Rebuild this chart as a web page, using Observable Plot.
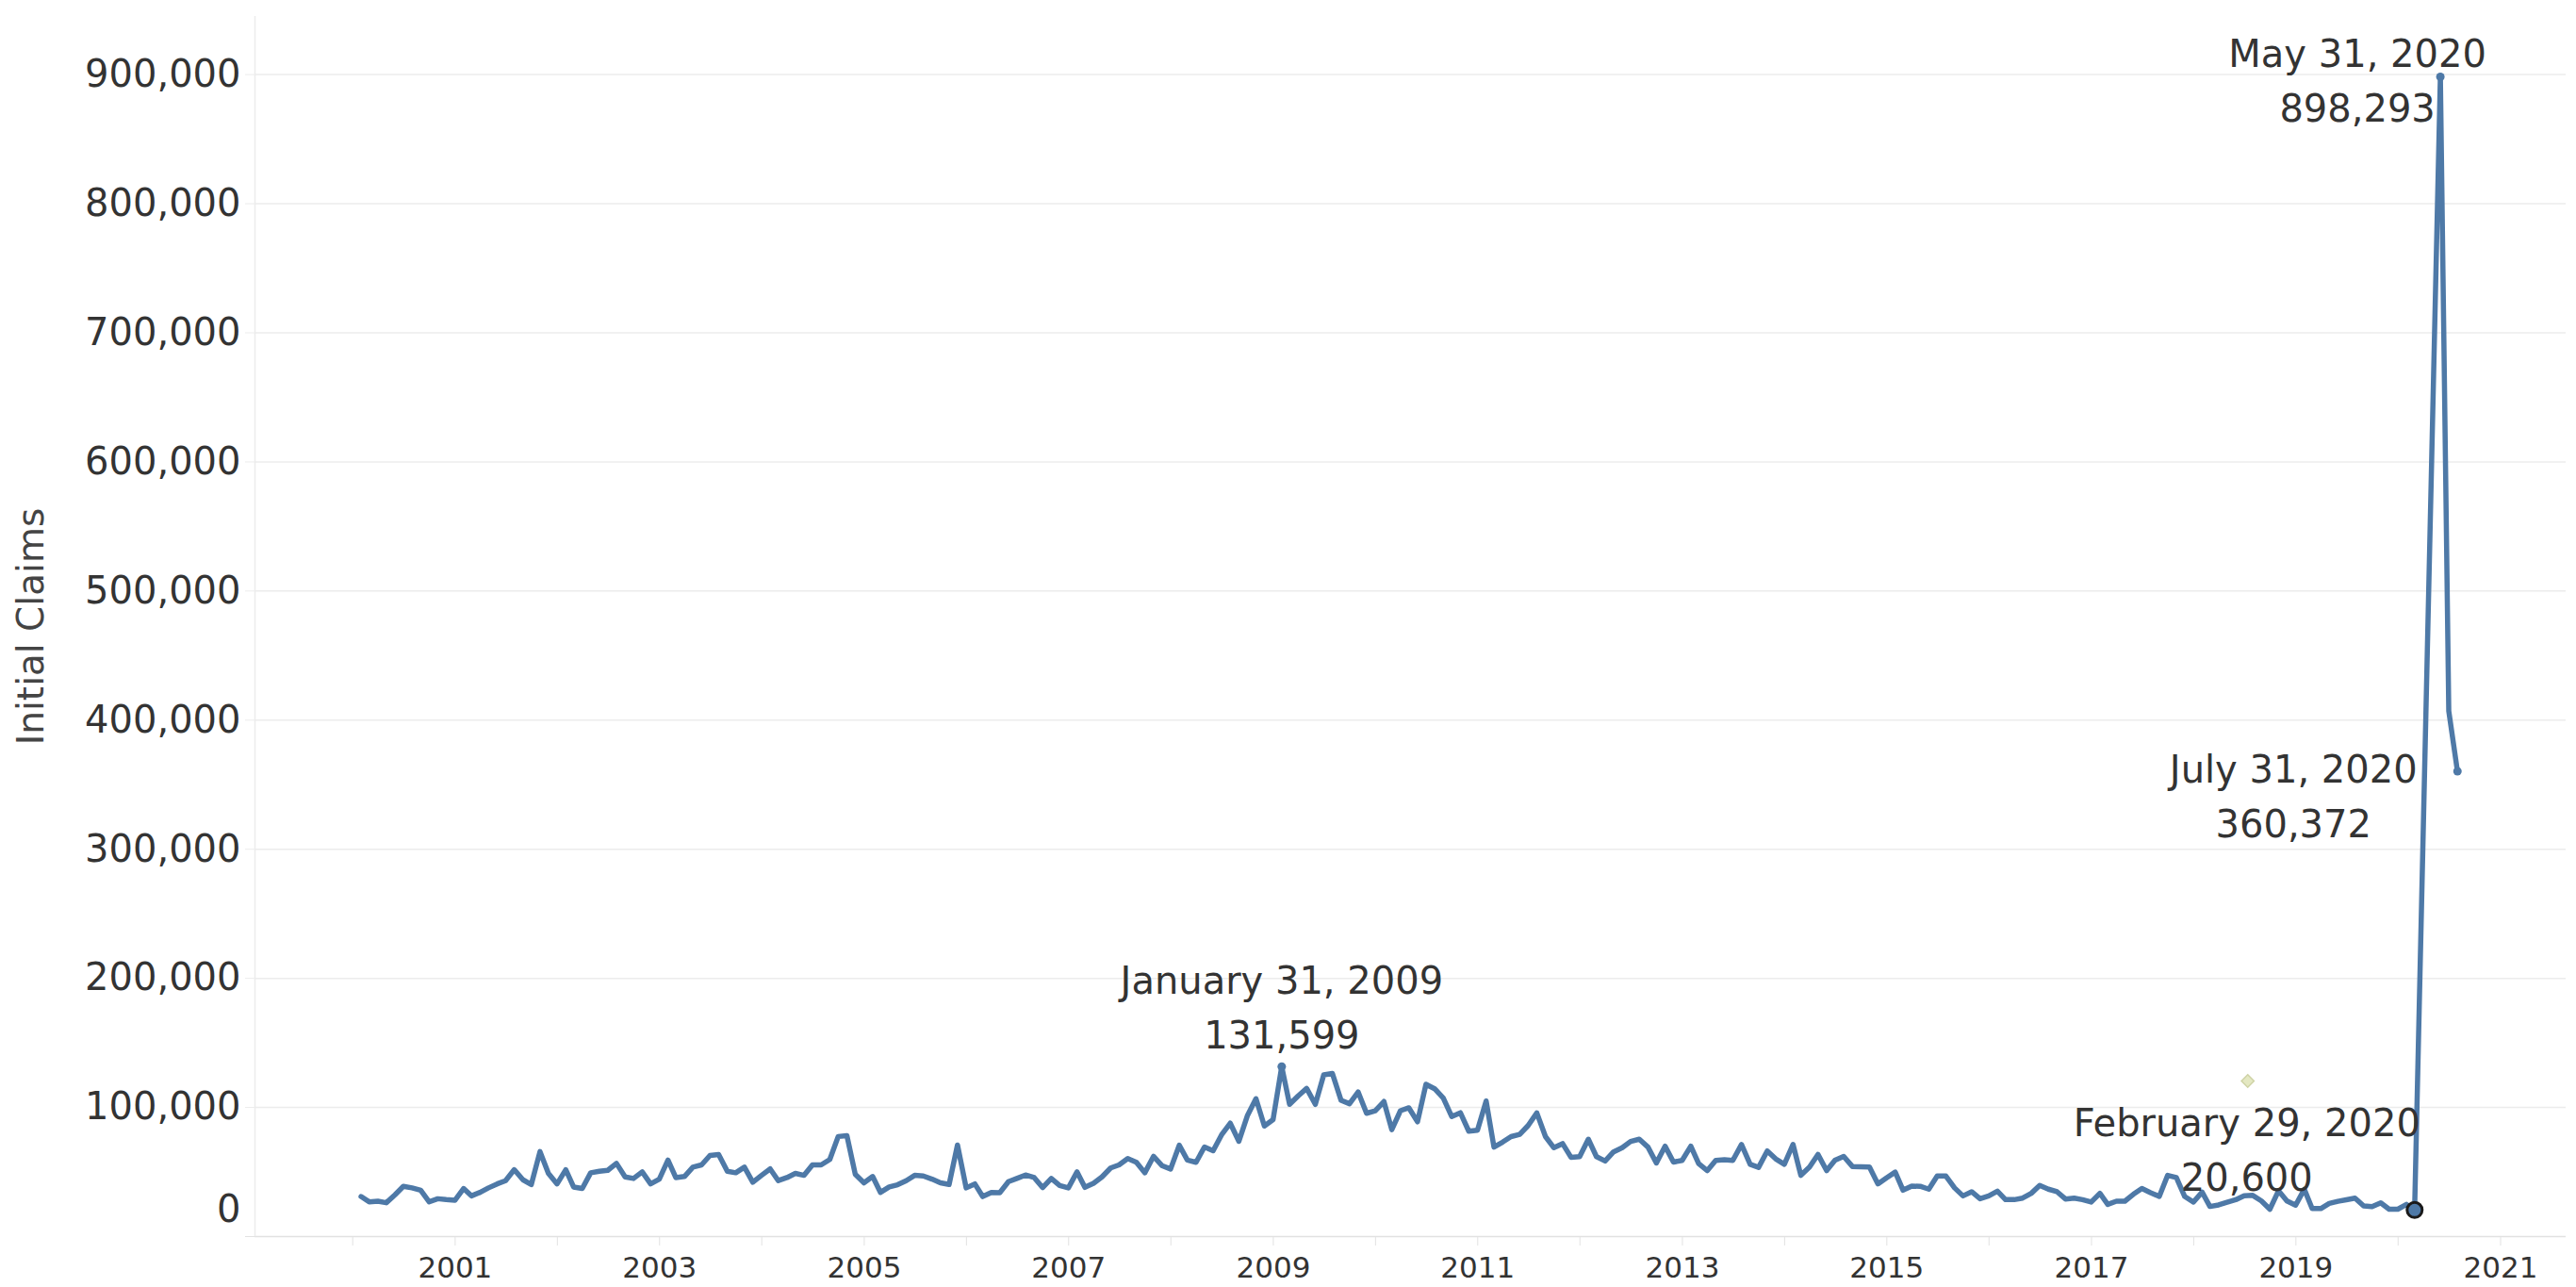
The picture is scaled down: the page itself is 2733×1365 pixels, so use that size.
<!DOCTYPE html>
<html>
<head>
<meta charset="utf-8">
<script src="https://cdn.jsdelivr.net/npm/d3@7"></script>
<script src="https://cdn.jsdelivr.net/npm/@observablehq/plot@0.6"></script>
<style>
  html, body { margin: 0; padding: 0; background: #fff; }
  #chart svg { display: block; }
</style>
</head>
<body>
<div id="chart"></div>
<script>
// ---------- data ----------
const seriesStart = "2000-01-01";           // first month of the monthly series (month-end dates)
const monthlyClaims = [                      // Jan 2000 … Feb 2020
  31000, 26900, 27400, 26200, 32300, 38900, 37700, 35900, 26900, 29300, 28600, 28100,
  37200, 31500, 34200, 37700, 40800, 43300, 51800, 44000, 40300, 65800, 48900, 40800,
  51800, 38400, 37200, 49400, 50600, 51300, 56700, 46200, 45000, 50100, 40800, 44500,
  59200, 45700, 46500, 53800, 55500, 62800, 63600, 50600, 49400, 53800, 42100, 47400,
  52400, 43300, 45700, 48900, 47400, 55500, 55500, 59700, 77500, 78200, 48200, 41600,
  46500, 34200, 38400, 40100, 43300, 47400, 46900, 44500, 41600, 40300, 70900, 37700,
  40800, 31000, 34200, 34000, 42500, 45000, 47700, 45700, 37900, 45000, 39600, 37700,
  50100, 38100, 41300, 46200, 53100, 55500, 60400, 57500, 49400, 62100, 55000, 52300,
  70700, 59200, 57500, 69400, 66500, 78700, 87800, 73800, 93400, 106800, 85600, 90500,
  131599, 102400, 109000, 114700, 102400, 125300, 126300, 105500, 102900, 112000, 95500, 97400,
  104600, 82800, 97500, 99700, 88900, 117900, 114500, 107300, 93000, 95900, 81600, 82400,
  105000, 69300, 73200, 77400, 79100, 86000, 95800, 77400, 68800, 72000, 61400, 61900,
  75400, 61900, 58500, 65600, 68800, 73700, 75400, 69300, 57000, 70000, 57700, 59000,
  70000, 56500, 51100, 59000, 59500, 59000, 71300, 56000, 53600, 66300, 60200, 56000,
  71400, 47400, 53800, 63600, 51100, 59200, 62100, 54300, 54000, 53800, 40800, 45500,
  49900, 35900, 39100, 38900, 36700, 46900, 46900, 37700, 31500, 34700, 29300, 31500,
  35200, 28600, 28600, 29800, 33500, 39600, 36700, 34700, 29100, 29800, 28600, 26700,
  33500, 24900, 27400, 27400, 32800, 37200, 34000, 31100, 47400, 45700, 31000, 26700,
  34400, 23300, 24500, 26500, 28500, 31600, 31900, 27600, 21200, 35500, 27600, 24300,
  36600, 21700, 21700, 25600, 27300, 28500, 29800, 23700, 23200, 26100, 21200, 21200,
  24900, 20600
];
const laterDates  = ["2020-05-31", "2020-06-30", "2020-07-31"];
const laterClaims = [898293, 407000, 360372];

const annDates  = ["2009-01-31", "2020-02-29", "2020-05-31", "2020-07-31"];
const annTitles = ["January 31, 2009", "February 29, 2020", "May 31, 2020", "July 31, 2020"];
const annValues = [131599, 20600, 898293, 360372];

const markerDates  = ["2018-07-13"];
const markerValues = [120500];

const yTicks = [0, 100000, 200000, 300000, 400000, 500000, 600000, 700000, 800000, 900000];
const xTickYears  = [2000, 2001, 2002, 2003, 2004, 2005, 2006, 2007, 2008, 2009, 2010,
                     2011, 2012, 2013, 2014, 2015, 2016, 2017, 2018, 2019, 2020, 2021];
const xLabelYears = [2001, 2003, 2005, 2007, 2009, 2011, 2013, 2015, 2017, 2019, 2021];
const xDomain = ["1999-01-17", "2021-08-23"];
const yDomain = [0, 945000];
const yTitle = "Initial Claims";

// ---------- build tables ----------
const start = new Date(seriesStart + "T00:00:00Z");
const series = monthlyClaims.map((v, i) => ({
  date: d3.utcDay.offset(d3.utcMonth.offset(start, i + 1), -1),
  value: v
})).concat(laterDates.map((d, i) => ({ date: new Date(d + "T00:00:00Z"), value: laterClaims[i] })));

const annotations = annDates.map((d, i) => ({
  key: d, date: new Date(d + "T00:00:00Z"), value: annValues[i], title: annTitles[i]
}));
const markers = markerDates.map((d, i) => ({ date: new Date(d + "T00:00:00Z"), value: markerValues[i] }));

// layout (styles / offsets)
const BLUE = "#4e79a7";
const TEXT = "#333333";
const GRID = "#ececec";
const AXIS = "#e2e2e2";
const labelOffsets = {
  "2009-01-31": { dx: 0,    dy: -67 },
  "2020-02-29": { dx: -178, dy: -68 },
  "2020-05-31": { dx: -88,  dy: 0 },
  "2020-07-31": { dx: -174, dy: 22 }
};
const fmt = d3.format(",");

const textMarks = annotations.map(a => Plot.text([a], {
  x: "date", y: "value",
  text: d => d.title + "\n" + fmt(d.value),
  dx: labelOffsets[a.key].dx, dy: labelOffsets[a.key].dy,
  fontSize: 40, lineHeight: 1.45, fill: TEXT,
  textAnchor: "middle", lineAnchor: "middle"
}));

const chart = Plot.plot({
  width: 2733,
  height: 1365,
  marginLeft: 270,
  marginRight: 11,
  marginTop: 17,
  marginBottom: 54,
  style: { fontFamily: "'DejaVu Sans', sans-serif", background: "#fff", color: TEXT },
  x: { type: "utc", domain: xDomain.map(d => new Date(d + "T00:00:00Z")), label: null },
  y: { domain: yDomain, label: null },
  marks: [
    Plot.gridY(yTicks.filter(t => t > 0), { stroke: GRID, strokeOpacity: 1, strokeWidth: 1.5 }),
    Plot.ruleY([0], { stroke: AXIS, strokeWidth: 1.5 }),
    Plot.ruleX([new Date(xDomain[0] + "T00:00:00Z")], { stroke: GRID, strokeWidth: 1.5 }),
    Plot.axisY(yTicks.filter(t => t > 0), {
      tickSize: 10, tickPadding: 5, stroke: GRID, fill: TEXT, fontSize: 40, tickFormat: fmt
    }),
    Plot.axisY([0], { tickSize: 10, stroke: AXIS, tickFormat: () => "" }),
    Plot.axisY([0], { tickSize: 0, tickPadding: 15, dy: -28, fill: TEXT, fontSize: 40, tickFormat: fmt }),
    Plot.axisX(xTickYears.map(y => new Date(Date.UTC(y, 0, 1))), {
      tickSize: 10, tickPadding: 11, stroke: AXIS, fill: TEXT, fontSize: 31,
      tickFormat: d => xLabelYears.includes(d.getUTCFullYear()) ? String(d.getUTCFullYear()) : ""
    }),
    Plot.text([yTitle], { frameAnchor: "left", textAnchor: "middle", rotate: -90, dx: -237, fontSize: 39, fill: "#444" }),
    Plot.lineY(series, { x: "date", y: "value", stroke: BLUE, strokeWidth: 5.5, strokeLinejoin: "round", strokeLinecap: "round" }),
    Plot.dot(annotations.filter(a => a.key !== "2020-02-29"), { x: "date", y: "value", r: 4.5, fill: BLUE }),
    Plot.dot(annotations.filter(a => a.key === "2020-02-29"), { x: "date", y: "value", r: 8, fill: BLUE, stroke: "#1a1a1a", strokeWidth: 3 }),
    Plot.dot(markers, { x: "date", y: "value", symbol: "diamond2", r: 6, fill: "#e4e8c2", stroke: "#cfd3a6", strokeWidth: 1.5 }),
    ...textMarks
  ]
});

document.getElementById("chart").appendChild(chart);
</script>
</body>
</html>
